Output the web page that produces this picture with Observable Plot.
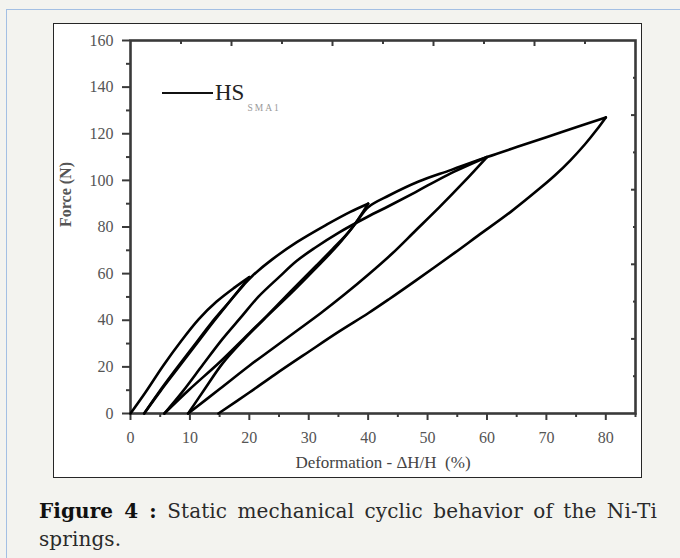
<!DOCTYPE html>
<html>
<head>
<meta charset="utf-8">
<script src="https://cdn.jsdelivr.net/npm/d3@7"></script>
<script src="https://cdn.jsdelivr.net/npm/@observablehq/plot@0.6"></script>
<style>
  html, body { margin: 0; padding: 0; background: #f3f3ef; }
  #page { position: relative; width: 680px; height: 558px; overflow: hidden; }
  #blue { position: absolute; left: 6px; top: 9px; width: 720px; height: 600px;
          border-left: 1px solid #a3bfe3; border-top: 1px solid #a3bfe3; }
  #box { position: absolute; left: 53px; top: 23px; width: 587px; height: 453px;
         background: #fff; border: 1.5px solid #262626; }
  #chart { position: absolute; left: 0; top: 0; }
  #legend-line { position: absolute; left: 162px; top: 91.5px; width: 51px; height: 2.8px; background: #111; }
  #legend-text { position: absolute; left: 215px; top: 79px; font-family: "Liberation Serif", serif;
                 font-size: 23px; color: #222; line-height: 28px; white-space: nowrap; }
  #legend-text sub { font-size: 9.5px; color: #999; letter-spacing: 2px; margin-left: 3px; vertical-align: -11px; }
  #caption { position: absolute; left: 39px; top: 497px; width: 618px; margin: 0;
             font-family: "DejaVu Serif", serif; font-size: 20px; letter-spacing: 0.1px; line-height: 28px;
             color: #2a2a2a; }
  #caption .l1 { text-align: justify; text-align-last: justify; white-space: nowrap; }
  #caption b { color: #111; }
</style>
</head>
<body>
<div id="page">
  <div id="blue"></div>
  <div id="box"></div>
  <div id="chart"></div>
  <div id="legend-line"></div>
  <div id="legend-text">HS<sub>SMA1</sub></div>
  <div id="caption">
    <div class="l1"><b>Figure 4 :</b> Static mechanical cyclic behavior of the Ni-Ti</div>
    <div class="l2">springs.</div>
  </div>
</div>
<script>
// ---- Data: [deformation %, force N] ----
const cycle1Loading = [[0,0],[2.5,9],[5.5,20.5],[8.5,31],[11.5,40.5],[14.5,48],[17.5,54],[20,58.5]];
const cycle1Unloading = [[20,58.5],[17,49],[14,39.5],[11,29.5],[8,19.5],[5,9.5],[2.3,0]];
const cycle2Loading = [[2.3,0],[4.6,8.5],[7.5,18.5],[10.5,28.5],[13.5,38.5],[16.5,47.5],[19,55],[20.5,59],[23.8,66],[28,73.5],[33,81],[37,86.5],[40,90]];
const cycle2Unloading = [[40,90],[38.5,84],[36.8,78],[34,70.5],[31.3,63.5],[27,52.5],[23,42],[20,34.5],[15,22],[10,10.5],[5.7,0]];
const cycle3Loading = [[5.7,0],[8.8,9.5],[12.2,21],[15.5,32],[18.5,41],[21.5,50],[25,58.5],[28,65.5],[31,71],[35,77.5],[40,84.5],[43.5,89],[48,95],[53.5,102.5],[60,110]];
const cycle3Unloading = [[60,110],[56,99],[52,88.5],[48,78.5],[44,68.5],[40,59.5],[36,51],[32,43],[28,35.5],[24,28],[20,20.5],[15,10.5],[9.7,0]];
const cycle4Loading = [[9.7,0],[12.5,10.5],[15.5,21.5],[19,31.5],[22.7,41],[27,51.5],[31,61.8],[35,72.5],[38,82],[40,88.5],[43.5,93.5],[48.5,99.5],[54,104.5],[60,110],[65,114.3],[70,118.5],[75,122.8],[80,127]];
const cycle4Unloading = [[80,127],[78.5,121.8],[76.5,115.5],[74,108.5],[71.5,102.3],[69,96.8],[64,86.5],[58.5,76.3],[54.6,69],[48,57],[43.5,49],[40,43],[35,35],[30,26.5],[24.3,16.7],[20,9],[14.8,0]];

// ---- Axis ticks ----
const xMajorTicks = [0,10,20,30,40,50,60,70,80];
const xMinorTicks = [5,15,25,35,45,55,65,75,85];
const yMajorTicks = [0,20,40,60,80,100,120,140,160];
const yMinorTicks = [10,30,50,70,90,110,130,150];
const topLongTicks = [17,34,51,68];
const topShortTicks = [8.5,25.5,42.5,59.5,76.5];
const rightLongTicks = [32,64,96,128];
const rightShortTicks = [16,48,80,112,144];

const xLabel = "Deformation - \u0394H/H  (%)";
const yLabel = "Force (N)";

const segments = [
  ["c1-load", cycle1Loading], ["c1-unload", cycle1Unloading],
  ["c2-load", cycle2Loading], ["c2-unload", cycle2Unloading],
  ["c3-load", cycle3Loading], ["c3-unload", cycle3Unloading],
  ["c4-load", cycle4Loading], ["c4-unload", cycle4Unloading]
];
const table = segments.flatMap(([seg, pts]) => pts.map(([d, f]) => ({seg, d, f})));

const axisInk = "#3a3a3a";
const labelInk = "#555";

const chart = Plot.plot({
  width: 680,
  height: 480,
  marginLeft: 130,
  marginRight: 45,
  marginTop: 40,
  marginBottom: 67,
  style: {background: "transparent", fontFamily: "'Liberation Serif', serif", fontSize: "16px", overflow: "visible"},
  x: {domain: [0, 85]},
  y: {domain: [0, 160]},
  marks: [
    Plot.axisX({ticks: xMajorTicks, tickSize: 7, tickPadding: 11, stroke: axisInk, fill: labelInk, strokeWidth: 2, fontSize: 16, label: null}),
    Plot.axisX({ticks: xMinorTicks, tickSize: 4, text: null, stroke: axisInk, strokeWidth: 2, label: null}),
    Plot.axisX({anchor: "top", ticks: topLongTicks, tickSize: -5, text: null, stroke: axisInk, strokeWidth: 2, label: null}),
    Plot.axisX({anchor: "top", ticks: topShortTicks, tickSize: -3, text: null, stroke: axisInk, strokeWidth: 2, label: null}),
    Plot.axisY({ticks: yMajorTicks, tickSize: 8, tickPadding: 9, stroke: axisInk, fill: labelInk, strokeWidth: 2, fontSize: 16, label: null}),
    Plot.axisY({ticks: yMinorTicks, tickSize: 4, text: null, stroke: axisInk, strokeWidth: 2, label: null}),
    Plot.axisY({anchor: "right", ticks: rightLongTicks, tickSize: -5, text: null, stroke: axisInk, strokeWidth: 2, label: null}),
    Plot.axisY({anchor: "right", ticks: rightShortTicks, tickSize: -3, text: null, stroke: axisInk, strokeWidth: 2, label: null}),
    Plot.frame({stroke: axisInk, strokeWidth: 2.6}),
    Plot.text([xLabel], {frameAnchor: "bottom", dy: 54, text: d => d, fontSize: 17, fill: "#444", letterSpacing: 1.8}),
    Plot.text([yLabel], {frameAnchor: "left", dx: -65, rotate: -90, text: d => d, fontSize: 16, fontWeight: "bold", fill: labelInk}),
    Plot.line(table, {x: "d", y: "f", z: "seg", stroke: "#000", strokeWidth: 2.6, curve: "catmull-rom", strokeLinejoin: "round"})
  ]
});
document.getElementById("chart").appendChild(chart);
</script>
</body>
</html>
